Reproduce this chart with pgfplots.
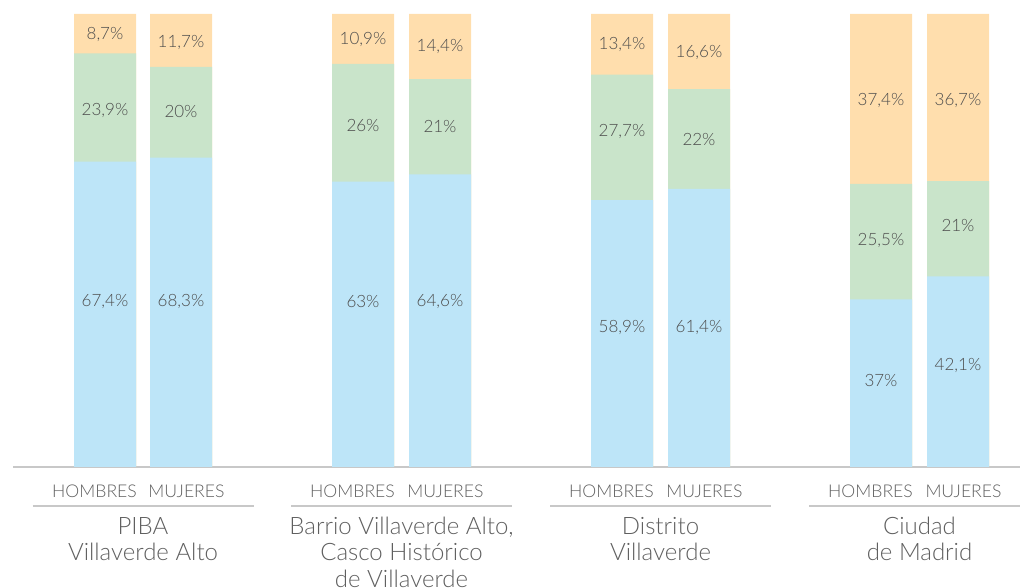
\documentclass[border=0pt]{standalone}
\usepackage{pgfplots}
\pgfplotsset{compat=1.18}
\usepackage{fontspec}
\setmainfont{Lato}[UprightFont=* Light]
\definecolor{cblue}{HTML}{BDE5F8}
\definecolor{cgreen}{HTML}{C9E4CA}
\definecolor{corange}{HTML}{FFDEAD}
\definecolor{txt}{HTML}{4D4D4D}
\definecolor{lbl}{HTML}{5F5F5F}
\definecolor{rule}{HTML}{C8C8C8}

% cumulative tops of each stacked bar (blue, blue+green, total)
\pgfplotstableread{
x    blue  green  orange
105  67.4  91.3   100.0
181  68.3  88.3   100.0
363  63.0  89.0   100.0
440  64.6  85.6   100.0
622  58.9  86.6   100.0
699  61.4  83.4   100.0
881  37.0  62.5   100.0
958  42.1  63.1   100.0
}\bars

% label positions
\pgfplotstableread{
x    y     lab
105  95.4  8,7\%
105  78.6  23,9\%
105  36.6  67,4\%
181  93.8  11,7\%
181  78.4  20\%
181  36.6  68,3\%
363  94.3  10,9\%
363  75.3  26\%
363  36.6  63\%
440  92.9  14,4\%
440  75.1  21\%
440  36.6  64,6\%
622  93.2  13,4\%
622  74.0  27,7\%
622  30.7  58,9\%
699  91.6  16,6\%
699  72.4  22\%
699  30.7  61,4\%
881  80.8  37,4\%
881  50.1  25,5\%
881  19.0  37\%
958  80.8  36,7\%
958  53.4  21\%
958  22.5  42,1\%
}\labels

\begin{document}
\begin{tikzpicture}
\useasboundingbox (0,0) rectangle (1020pt,588pt);
\begin{axis}[
  at={(13pt,121pt)}, anchor=south west,
  scale only axis, width=1007pt, height=453pt,
  xmin=13, xmax=1020, ymin=0, ymax=100,
  axis y line=none, axis x line*=bottom,
  x axis line style={draw=rule, line width=1.2pt, -},
  xtick={94.5,186.5,352.5,445.5,611.5,704.5,870.5,963.5},
  xticklabels={HOMBRES,MUJERES,HOMBRES,MUJERES,HOMBRES,MUJERES,HOMBRES,MUJERES},
  major tick length=0pt,
  xticklabel style={font=\fontsize{17.6}{20}\selectfont, text=lbl, inner sep=0pt, yshift=-18pt},
  clip=false,
  bar width=62pt,
]
\addplot[ybar, bar shift=0pt, fill=corange, draw=none] table[x=x, y=orange] {\bars};
\addplot[ybar, bar shift=0pt, fill=cgreen, draw=none] table[x=x, y=green] {\bars};
\addplot[ybar, bar shift=0pt, fill=cblue, draw=none] table[x=x, y=blue] {\bars};
\addplot[only marks, mark=none, nodes near coords, point meta=explicit symbolic,
  every node near coord/.append style={anchor=center, text=txt, font=\fontsize{17}{20}\selectfont}]
  table[x=x, y=y, meta=lab] {\labels};

\draw[rule, line width=1.2pt] (axis cs:32.5,-8.6) -- (axis cs:253.5,-8.6);
\draw[rule, line width=1.2pt] (axis cs:291,-8.6) -- (axis cs:512,-8.6);
\draw[rule, line width=1.2pt] (axis cs:550,-8.6) -- (axis cs:771,-8.6);
\draw[rule, line width=1.2pt] (axis cs:809,-8.6) -- (axis cs:1020,-8.6);
\begin{scope}[every node/.style={text=lbl, font=\fontsize{24}{26.5}\selectfont, align=center, anchor=north, inner sep=0pt}]
\node at (axis cs:143,-11.0) {PIBA\\Villaverde Alto};
\node at (axis cs:401.5,-11.0) {Barrio Villaverde Alto,\\Casco Histórico\\de Villaverde};
\node at (axis cs:660.5,-11.0) {Distrito\\Villaverde};
\node at (axis cs:919.5,-11.0) {Ciudad\\de Madrid};
\end{scope}
\end{axis}
\end{tikzpicture}
\end{document}
